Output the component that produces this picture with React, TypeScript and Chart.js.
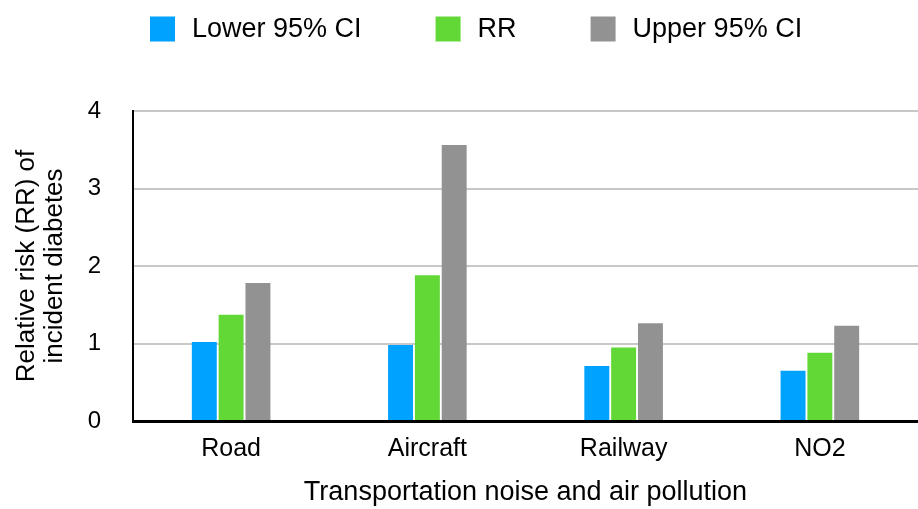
import React, { useEffect, useRef } from "react";
import { Chart, registerables } from "chart.js";

Chart.register(...registerables);

const categories = ["Road", "Aircraft", "Railway", "NO2"];
const lowerCI = [1.02, 0.98, 0.71, 0.65];
const rr = [1.37, 1.88, 0.95, 0.88];
const upperCI = [1.78, 3.56, 1.26, 1.23];
const seriesNames = ["Lower 95% CI", "RR", "Upper 95% CI"];
const seriesColors = ["#00A2FF", "#61D836", "#929292"];
const yTitle = ["Relative risk (RR) of", "incident diabetes"];
const xTitle = "Transportation noise and air pollution";

const FONT = "'Liberation Sans', Arial, Helvetica, sans-serif";

const legendPlugin = {
  id: "customLegend",
  afterDraw(chart: any) {
    const ctx = chart.ctx;
    ctx.save();
    ctx.font = `27px ${FONT}`;
    ctx.textBaseline = "middle";
    ctx.textAlign = "left";
    let x = 150;
    const y = 29;
    const box = 25;
    chart.data.datasets.forEach((ds: any) => {
      ctx.fillStyle = ds.backgroundColor;
      ctx.fillRect(x, y - box / 2, box, box);
      ctx.fillStyle = "#000";
      ctx.fillText(ds.label, x + box + 17, y + 1);
      const w = ctx.measureText(ds.label).width;
      x += box + 17 + w + 74;
    });
    ctx.restore();
  },
};

export default function App() {
  const ref = useRef<HTMLCanvasElement>(null);
  useEffect(() => {
    if (!ref.current) return;
    const chart = new Chart(ref.current, {
      type: "bar",
      data: {
        labels: categories,
        datasets: [lowerCI, rr, upperCI].map((d, i) => ({
          label: seriesNames[i],
          data: d,
          backgroundColor: seriesColors[i],
          borderWidth: 0,
          categoryPercentage: 0.41,
          barPercentage: 0.93,
        })),
      },
      options: {
        animation: false,
        responsive: false,
        maintainAspectRatio: false,
        layout: { padding: { top: 111, right: 0, bottom: 0, left: 0 } },
        plugins: {
          legend: { display: false },
          tooltip: { enabled: false },
        },
        scales: {
          x: {
            grid: { display: false, drawTicks: false },
            border: { display: true, color: "#000", width: 3 },
            ticks: {
              color: "#000",
              font: { family: FONT, size: 25 },
              padding: 13,
            },
            title: {
              display: true,
              text: xTitle,
              color: "#000",
              font: { family: FONT, size: 27 },
              padding: { top: 11, bottom: 0 },
            },
            afterFit(axis: any) {
              axis.height = 88;
            },
          },
          y: {
            min: 0,
            max: 4,
            grid: { color: "#c8c8c8", lineWidth: 2, drawTicks: false },
            border: { display: true, color: "#000", width: 2 },
            ticks: {
              stepSize: 1,
              color: "#000",
              font: { family: FONT, size: 24 },
              padding: 32,
            },
            title: {
              display: true,
              text: yTitle,
              color: "#000",
              font: { family: FONT, size: 26, lineHeight: 1.08 },
              padding: { top: 13, bottom: 0 },
            },
            afterFit(axis: any) {
              axis.width = 133;
            },
          },
        },
      },
      plugins: [legendPlugin],
    });
    return () => chart.destroy();
  }, []);
  return (
    <div style={{ position: "absolute", left: 0, top: 0, width: 918, height: 509, background: "#fff" }}>
      <canvas ref={ref} width={918} height={509} style={{ width: 918, height: 509 }} />
    </div>
  );
}
